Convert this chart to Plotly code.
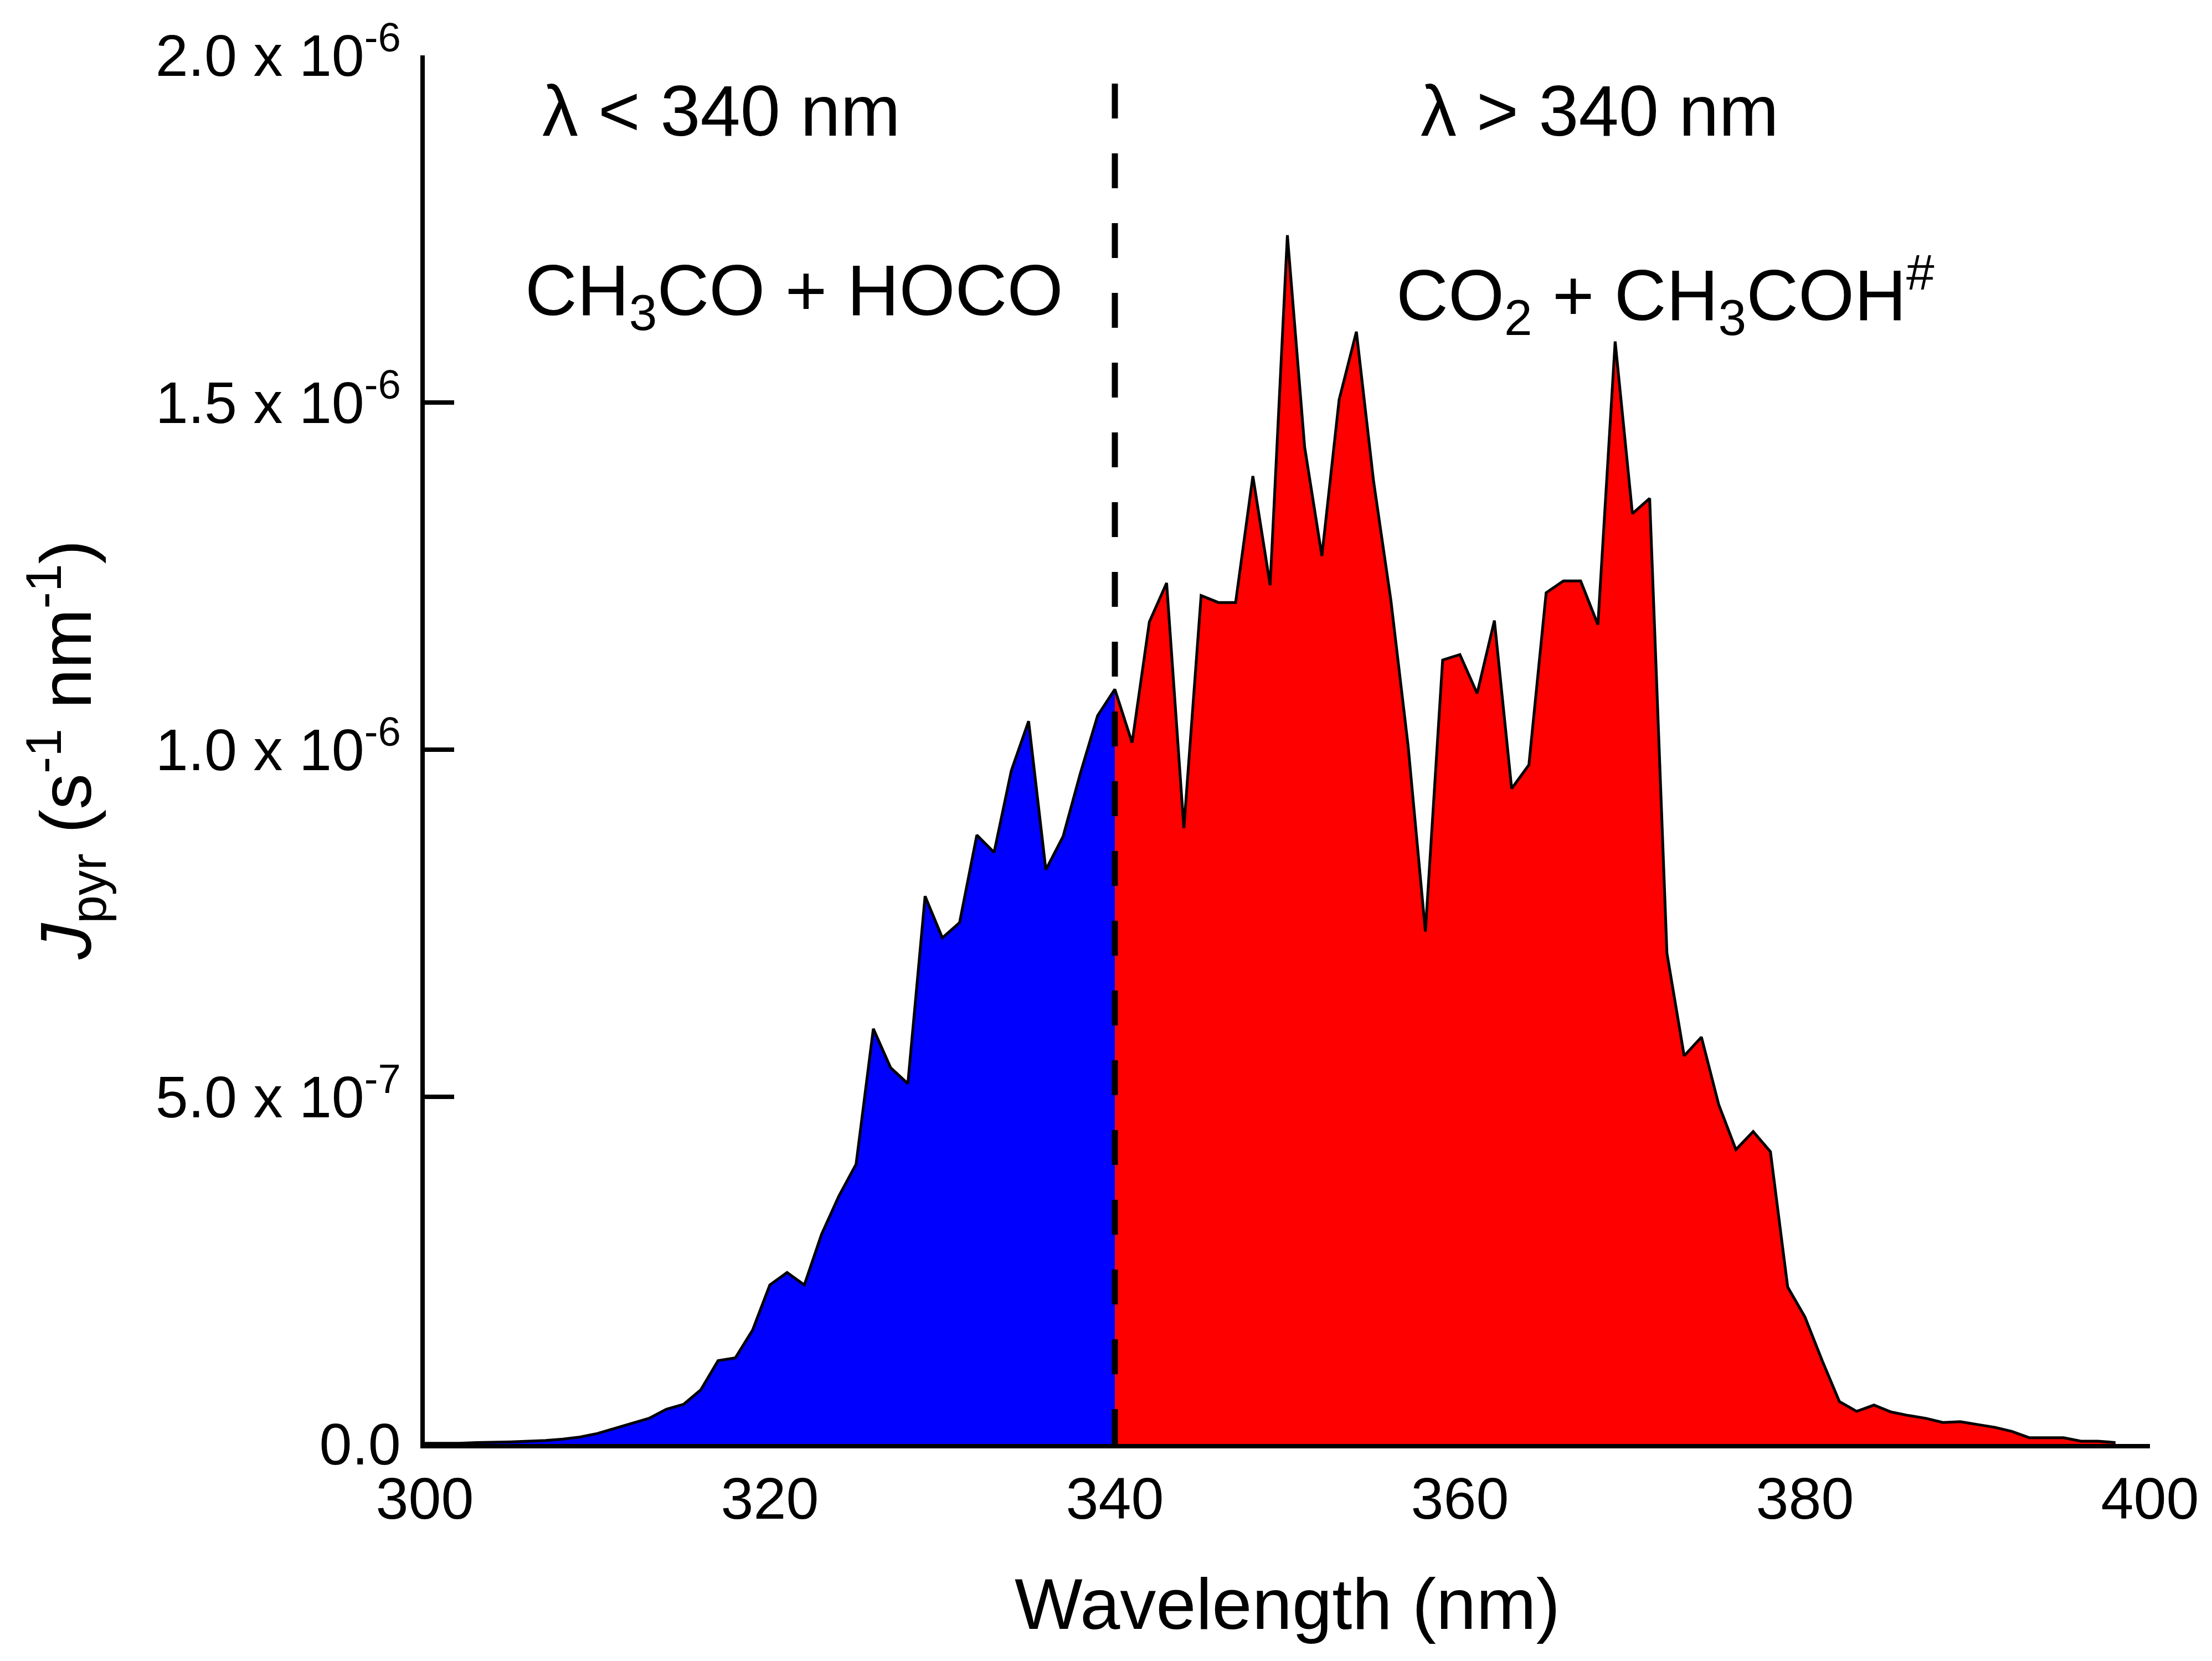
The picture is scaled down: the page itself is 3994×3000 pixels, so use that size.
import numpy as np
import plotly.graph_objects as go

# photolysis rate spectrum, J_pyr per nm (values in units of 1e-6 s^-1 nm^-1)
wavelength = list(range(300, 399))
j_vals = [0.001, 0.001, 0.001, 0.002, 0.002, 0.003, 0.004, 0.005, 0.007, 0.010,
          0.015, 0.022, 0.029, 0.037, 0.050, 0.057, 0.078, 0.120, 0.124, 0.164,
          0.229, 0.247, 0.229, 0.302, 0.357, 0.403, 0.598, 0.542, 0.519, 0.789,
          0.729, 0.751, 0.877, 0.852, 0.970, 1.041, 0.827, 0.875, 0.966, 1.049,
          1.087, 1.010, 1.184, 1.240, 0.887, 1.222, 1.212, 1.212, 1.394, 1.237,
          1.741, 1.436, 1.279, 1.504, 1.602, 1.386, 1.215, 1.005, 0.738, 1.129,
          1.137, 1.081, 1.186, 0.944, 0.978, 1.226, 1.243, 1.243, 1.180, 1.588,
          1.340, 1.362, 0.707, 0.559, 0.586, 0.489, 0.424, 0.450, 0.421, 0.226,
          0.183, 0.120, 0.061, 0.047, 0.056, 0.046, 0.041, 0.037, 0.031, 0.032,
          0.028, 0.024, 0.018, 0.009, 0.009, 0.009, 0.004, 0.004, 0.002]
split_nm = 340

ytick_vals = [0, 0.5e-6, 1.0e-6, 1.5e-6, 2.0e-6]
ytick_text = ["0.0", "5.0 x 10<sup>-7</sup>", "1.0 x 10<sup>-6</sup>",
              "1.5 x 10<sup>-6</sup>", "2.0 x 10<sup>-6</sup>"]
xtick_vals = [300, 320, 340, 360, 380, 400]

wl = np.array(wavelength)
jpyr = np.array(j_vals) * 1e-6
lo = wl <= split_nm
hi = wl >= split_nm

FONT = "Liberation Sans, Arial, sans-serif"

fig = go.Figure()
fig.add_trace(go.Scatter(x=wl[lo], y=jpyr[lo], mode="none", fill="tozeroy",
                         fillcolor="#0000ff"))
fig.add_trace(go.Scatter(x=wl[hi], y=jpyr[hi], mode="none", fill="tozeroy",
                         fillcolor="#ff0000"))
fig.add_trace(go.Scatter(x=wl, y=jpyr, mode="lines",
                         line=dict(color="black", width=5)))
# dashed separator at 340 nm
fig.add_trace(go.Scatter(x=[split_nm, split_nm], y=[0, 1.98e-6], mode="lines",
                         line=dict(color="black", width=11, dash="63px,63px")))

fig.add_annotation(x=317.2, y=1.92e-6, text="λ < 340 nm", showarrow=False,
                   font=dict(size=130))
fig.add_annotation(x=368.1, y=1.92e-6, text="λ > 340 nm", showarrow=False,
                   font=dict(size=130))
fig.add_annotation(x=321.4, y=1.655e-6, text="CH<sub>3</sub>CO + HOCO",
                   showarrow=False, font=dict(size=130))
fig.add_annotation(x=371.9, y=1.655e-6, text="CO<sub>2</sub> + CH<sub>3</sub>COH<sup>#</sup>",
                   showarrow=False, font=dict(size=130))

fig.update_layout(
    width=3994, height=3000,
    margin=dict(l=759, r=120, t=92, b=400),
    paper_bgcolor="white", plot_bgcolor="white",
    showlegend=False,
    font=dict(family=FONT, color="black", size=106),
)
fig.update_xaxes(
    range=[300, 400], tickvals=xtick_vals, ticks="inside", ticklen=53,
    tickwidth=8, tickcolor="black", showline=True, linewidth=8,
    linecolor="black", showgrid=False, zeroline=False, layer="below traces",
    title=dict(text="Wavelength (nm)", font=dict(size=130), standoff=90),
)
fig.update_yaxes(
    range=[0, 2.0e-6], tickvals=ytick_vals, ticktext=ytick_text,
    ticks="inside", ticklen=53, tickwidth=8, tickcolor="black",
    showline=True, linewidth=8, linecolor="black", showgrid=False,
    zeroline=False, ticklabelstandoff=14, layer="below traces",
    title=dict(text="<i>J</i><sub>pyr</sub> (s<sup>-1</sup> nm<sup>-1</sup>)",
               font=dict(size=130), standoff=75),
)

fig.write_html("out.html")
